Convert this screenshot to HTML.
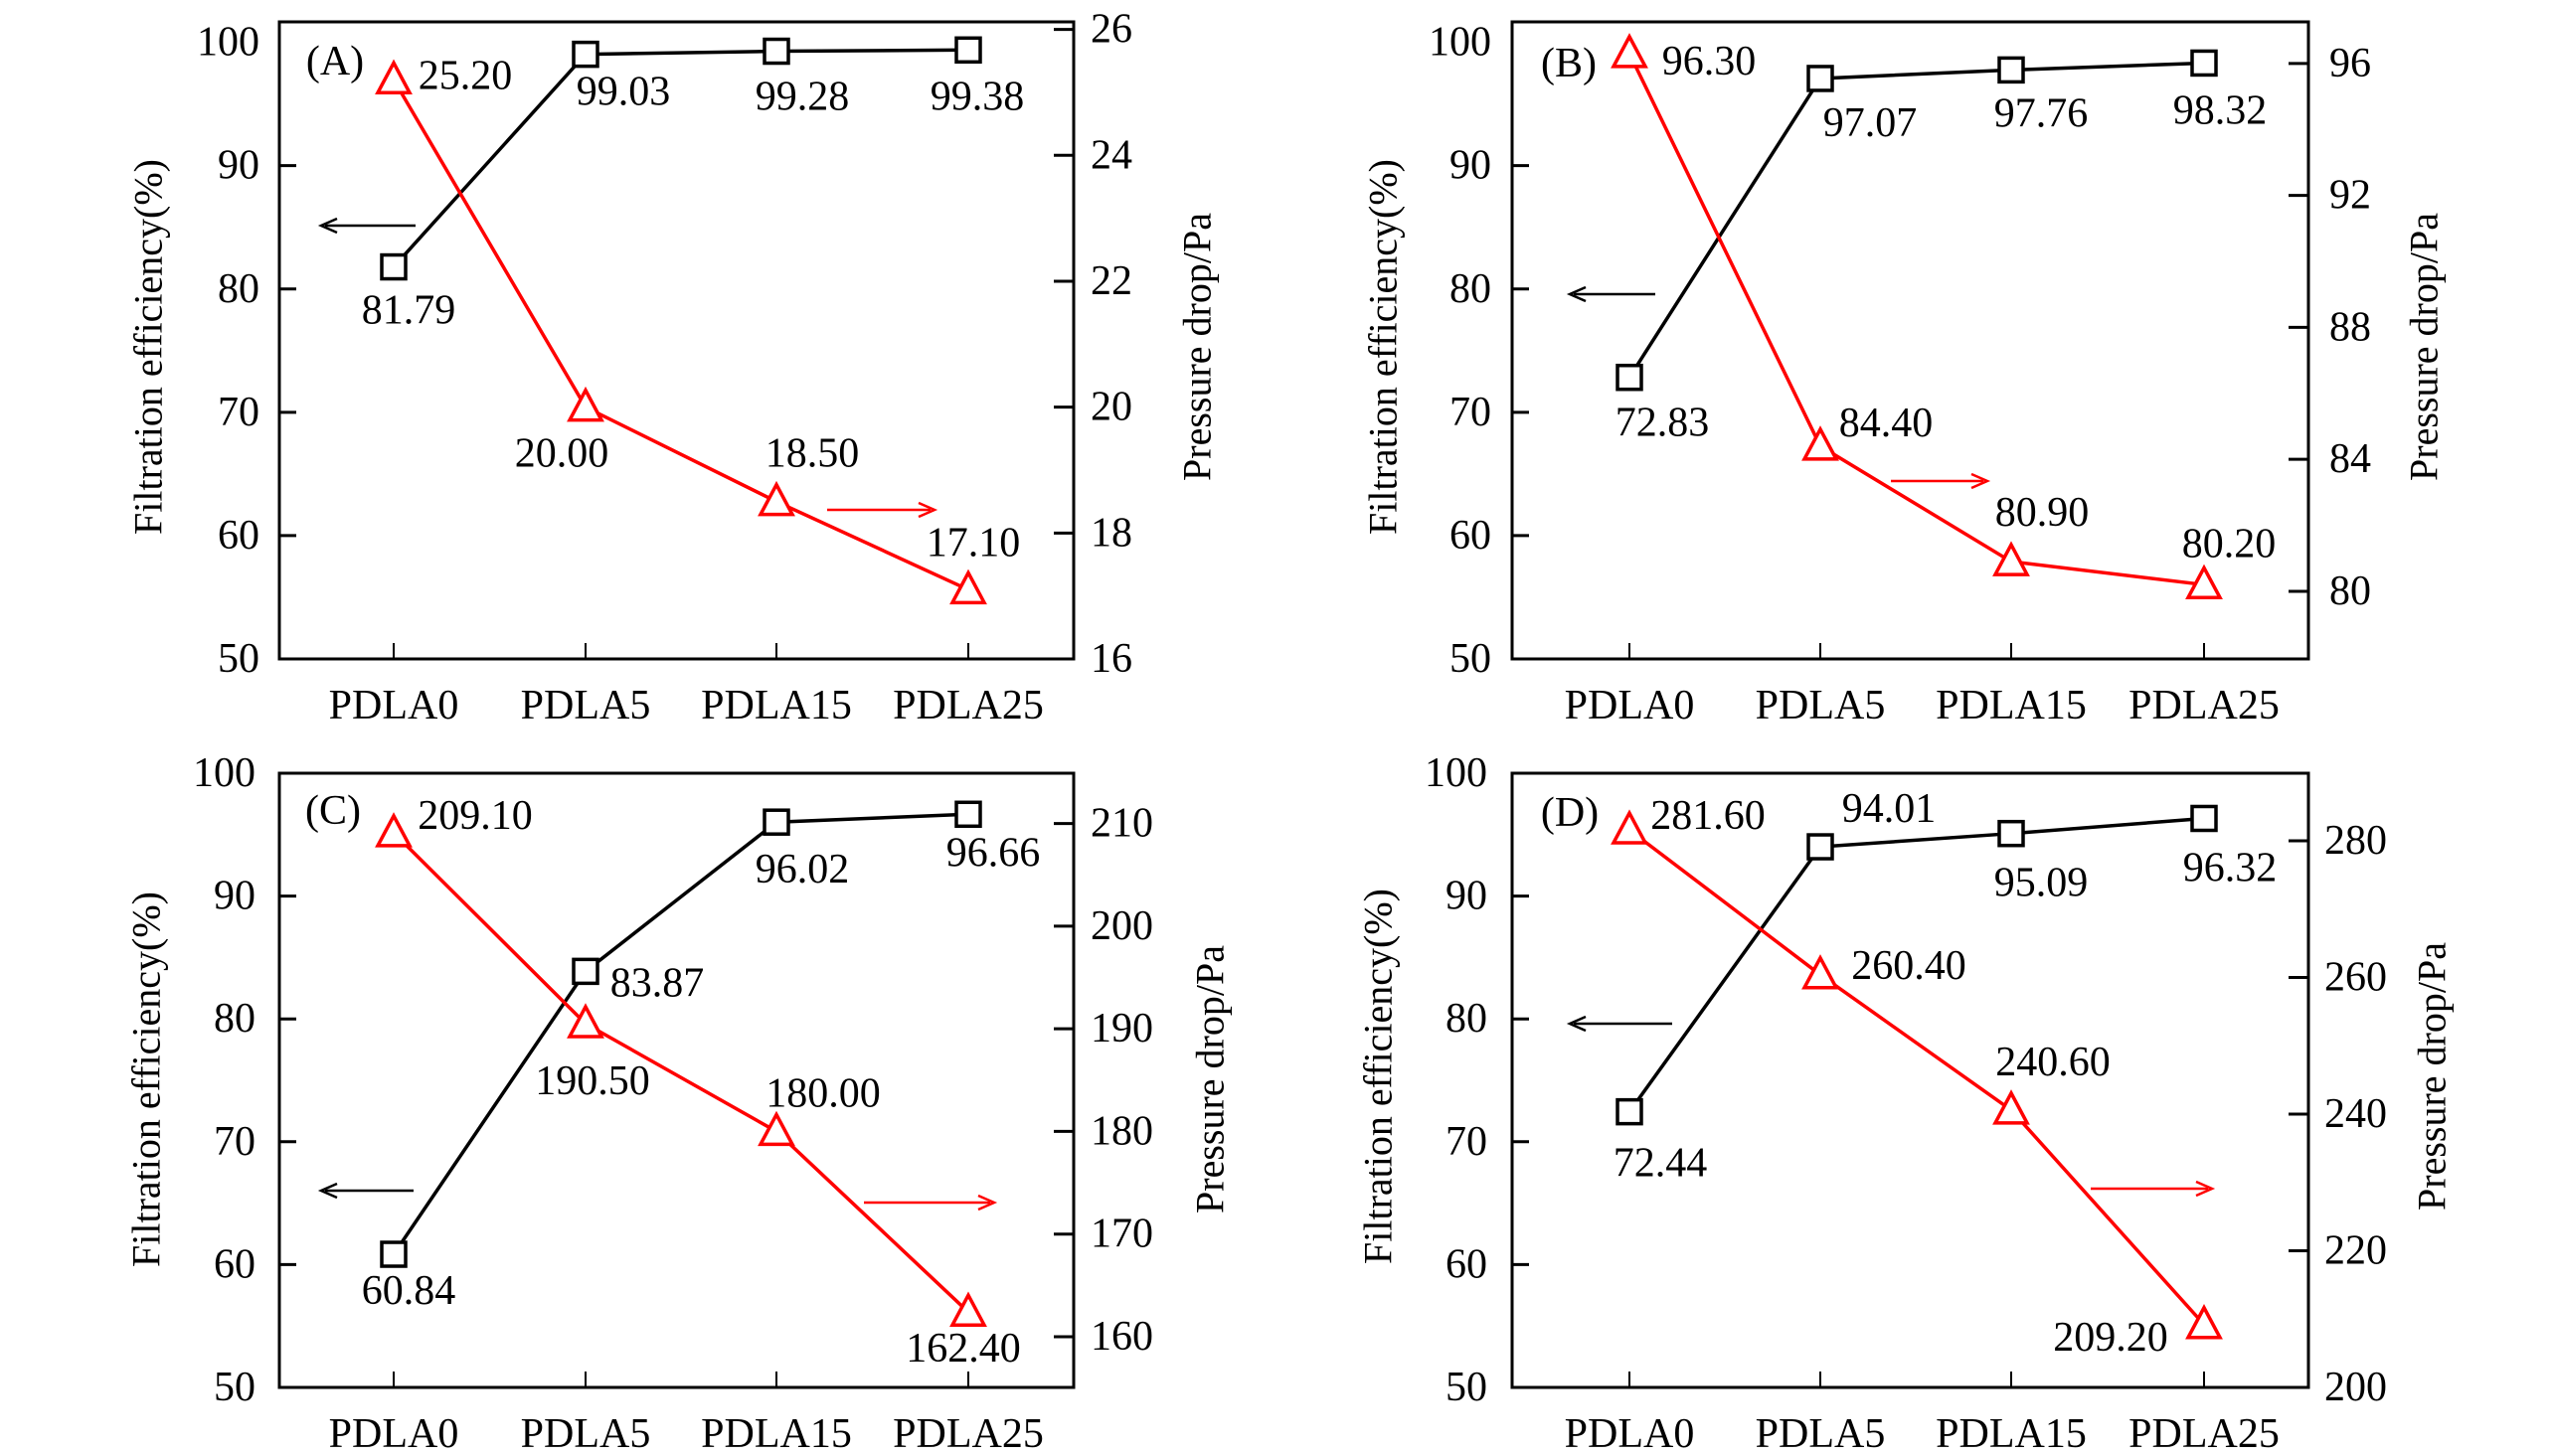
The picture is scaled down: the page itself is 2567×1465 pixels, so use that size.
<!DOCTYPE html>
<html><head><meta charset="utf-8"><style>
html,body{margin:0;padding:0;background:#fff;}
svg{display:block;font-family:"Liberation Serif","Times New Roman",serif;}
svg text{font-family:"Liberation Serif","Times New Roman",serif;}
</style></head><body>
<svg id="fig" xmlns="http://www.w3.org/2000/svg" width="2567" height="1465" viewBox="0 0 2567 1465" font-family="Liberation Serif, serif"></svg>
<script>
// ---- data ----
const categories = ["PDLA0","PDLA5","PDLA15","PDLA25"];
const effA = [81.79, 99.03, 99.28, 99.38];
const presA = [25.20, 20.00, 18.50, 17.10];
const effB = [72.83, 97.07, 97.76, 98.32];
const presB = [96.30, 84.40, 80.90, 80.20];
const effC = [60.84, 83.87, 96.02, 96.66];
const presC = [209.10, 190.50, 180.00, 162.40];
const effD = [72.44, 94.01, 95.09, 96.32];
const presD = [281.60, 260.40, 240.60, 209.20];
const leftTicks = [50,60,70,80,90,100];
const rightTicksA = [16,18,20,22,24,26];
const rightTicksB = [80,84,88,92,96];
const rightTicksC = [160,170,180,190,200,210];
const rightTicksD = [200,220,240,260,280];

const NS = "http://www.w3.org/2000/svg";
const svg = document.getElementById('fig');
const FF = '"Liberation Serif", serif';
function mk(tag, attrs, parent){
  const e = document.createElementNS(NS, tag);
  for (const k in attrs) e.setAttribute(k, attrs[k]);
  if (tag === 'text') e.setAttribute('font-family', FF);
  (parent||svg).appendChild(e);
  return e;
}

const panels = [
 {id:'a', tag:'(A)', x0:281, x1:1080, y0:22, y1:663, lmin:50, lmax:101.66, rmin:16, rmax:26.12,
  eff:effA, pres:presA, rt:rightTicksA, cx:[396,589,781,974], catY:710,
  effOff:[[15,44],[38,38],[26,46],[9,47]], presOff:[[72,-4],[-24,47],[36,-48],[5,-47]],
  tagPos:[337,62], lt:149, rt2:1204, ty:349, llx:261, rlx:1097,
  bArrow:[418,323,227], rArrow:[832,940,513]},
 {id:'b', tag:'(B)', x0:1521, x1:2322, y0:22, y1:663, lmin:50, lmax:101.66, rmin:77.95, rmax:97.26,
  eff:effB, pres:presB, rt:rightTicksB, cx:[1639,1831,2023,2217], catY:710,
  effOff:[[33,46],[50,45],[30,44],[16,48]], presOff:[[80,8],[66,-23],[31,-49],[25,-41]],
  tagPos:[1578,64], lt:1391, rt2:2438, ty:349, llx:1500, rlx:2343,
  bArrow:[1665,1579,296], rArrow:[1902,1999,484]},
 {id:'c', tag:'(C)', x0:281, x1:1080, y0:778, y1:1396, lmin:50, lmax:100, rmin:155.06, rmax:214.9,
  eff:effC, pres:presC, rt:rightTicksC, cx:[396,589,781,974], catY:1443,
  effOff:[[15,37],[72,12],[26,48],[25,39]], presOff:[[82,-17],[7,58],[47,-38],[-5,37]],
  tagPos:[335,816], lt:147, rt2:1217, ty:1086, llx:257, rlx:1097,
  bArrow:[416,323,1198], rArrow:[869,1000,1210]},
 {id:'d', tag:'(D)', x0:1521, x1:2322, y0:778, y1:1396, lmin:50, lmax:100, rmin:200, rmax:289.9,
  eff:effD, pres:presD, rt:rightTicksD, cx:[1639,1831,2023,2217], catY:1443,
  effOff:[[31,52],[69,-38],[30,50],[26,50]], presOff:[[79,-14],[89,-9],[42,-48],[-94,13]],
  tagPos:[1579,818], lt:1386, rt2:2446, ty:1083, llx:1496, rlx:2338,
  bArrow:[1682,1579,1030], rArrow:[2103,2225,1196]}
];

const FS = 42;
panels.forEach(p=>{
  const g = mk('g', {});
  
  
  const yl = v => p.y1 - (v - p.lmin) / (p.lmax - p.lmin) * (p.y1 - p.y0);
  const yr = v => p.y1 - (v - p.rmin) / (p.rmax - p.rmin) * (p.y1 - p.y0);
  const xc = i => p.cx[i];

  const frame = mk('rect', {x:p.x0, y:p.y0, width:p.x1-p.x0, height:p.y1-p.y0, fill:'none', stroke:'#000', 'stroke-width':3}, g);
  
  

  leftTicks.forEach(v=>{
    const y = yl(v);
    if (v > 50 && v < 100) mk('line', {x1:p.x0, x2:p.x0+17, y1:y, y2:y, stroke:'#000', 'stroke-width':3}, g);
    const t = mk('text', {x:p.llx, y:y, 'text-anchor':'end', 'dominant-baseline':'central', 'font-size':FS}, g);
    t.textContent = v;
    
    
  });
  p.rt.forEach(v=>{
    const y = yr(v);
    mk('line', {x1:p.x1-20, x2:p.x1, y1:y, y2:y, stroke:'#000', 'stroke-width':3}, g);
    const t = mk('text', {x:p.rlx, y:y, 'text-anchor':'start', 'dominant-baseline':'central', 'font-size':FS}, g);
    t.textContent = v;
    
    
  });
  categories.forEach((c,i)=>{
    mk('line', {x1:xc(i), x2:xc(i), y1:p.y1, y2:p.y1-16, stroke:'#000', 'stroke-width':2}, g);
    const t = mk('text', {x:xc(i), y:p.catY, 'text-anchor':'middle', 'dominant-baseline':'central', 'font-size':FS}, g);
    t.textContent = c;
    
    
  });
  const lt = mk('text', {x:p.lt, y:p.ty, 'text-anchor':'middle', 'dominant-baseline':'central', 'font-size':40, transform:`rotate(-90 ${p.lt} ${p.ty})`}, g);
  lt.textContent = 'Filtration efficiency(%)';
  
  
  const rt = mk('text', {x:p.rt2, y:p.ty, 'text-anchor':'middle', 'dominant-baseline':'central', 'font-size':40, transform:`rotate(-90 ${p.rt2} ${p.ty})`}, g);
  rt.textContent = 'Pressure drop/Pa';
  
  
  const tg = mk('text', {x:p.tagPos[0], y:p.tagPos[1], 'text-anchor':'middle', 'dominant-baseline':'central', 'font-size':FS}, g);
  tg.textContent = p.tag;
  
  

  const effPts = p.eff.map((v,i)=>xc(i)+','+yl(v)).join(' ');
  const el = mk('polyline', {points:effPts, fill:'none', stroke:'#000', 'stroke-width':3.5}, g);
  
  
  const presPts = p.pres.map((v,i)=>xc(i)+','+yr(v)).join(' ');
  const pl = mk('polyline', {points:presPts, fill:'none', stroke:'#f00', 'stroke-width':3.5}, g);
  
  

  p.eff.forEach((v,i)=>{
    const x = xc(i), y = yl(v);
    const s = mk('rect', {x:x-12, y:y-12, width:24, height:24, fill:'#fff', stroke:'#000', 'stroke-width':3.5}, g);
    
    
    const t = mk('text', {x:x+p.effOff[i][0], y:y+p.effOff[i][1], 'text-anchor':'middle', 'dominant-baseline':'central', 'font-size':FS}, g);
    t.textContent = v.toFixed(2);
    
    
  });
  p.pres.forEach((v,i)=>{
    const x = xc(i), y = yr(v);
    const tri = mk('polygon', {points:`${x},${y-17} ${x-16},${y+13} ${x+16},${y+13}`, fill:'#fff', stroke:'#f00', 'stroke-width':3.5}, g);
    
    
    const t = mk('text', {x:x+p.presOff[i][0], y:y+p.presOff[i][1], 'text-anchor':'middle', 'dominant-baseline':'central', 'font-size':FS}, g);
    t.textContent = v.toFixed(2);
    
    
  });

  const [bx1,bx2,by] = p.bArrow;
  const ba = mk('g', {}, g);
  
  
  mk('line', {x1:bx1, x2:bx2+4, y1:by, y2:by, stroke:'#000', 'stroke-width':2.5}, ba);
  mk('polyline', {points:`${bx2+16},${by-7} ${bx2},${by} ${bx2+16},${by+7}`, fill:'none', stroke:'#000', 'stroke-width':2.5}, ba);
  const [rx1,rx2,ry] = p.rArrow;
  const ra = mk('g', {}, g);
  
  
  mk('line', {x1:rx1, x2:rx2-4, y1:ry, y2:ry, stroke:'#f00', 'stroke-width':2.5}, ra);
  mk('polyline', {points:`${rx2-16},${ry-7} ${rx2},${ry} ${rx2-16},${ry+7}`, fill:'none', stroke:'#f00', 'stroke-width':2.5}, ra);
});
</script>
</body></html>
